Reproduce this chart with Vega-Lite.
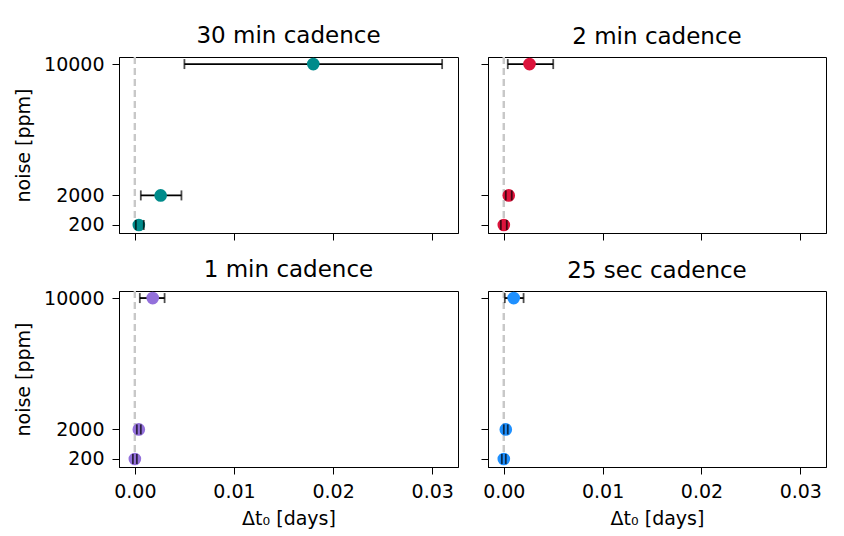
{
  "$schema": "https://vega.github.io/schema/vega-lite/v6.json",
  "background": "white",
  "padding": {"left": 14, "top": 24, "right": 5, "bottom": 5},
  "datasets": {
    "d": [
      {"panel": "30 min", "noise": 10000, "dt": 0.0180, "lo": 0.0050, "hi": 0.0310},
      {"panel": "30 min", "noise": 2000, "dt": 0.0026, "lo": 0.0006, "hi": 0.0047},
      {"panel": "30 min", "noise": 200, "dt": 0.0004, "lo": 0.0001, "hi": 0.0009},
      {"panel": "2 min", "noise": 10000, "dt": 0.0026, "lo": 0.0004, "hi": 0.0050},
      {"panel": "2 min", "noise": 2000, "dt": 0.0005, "lo": 0.0002, "hi": 0.0008},
      {"panel": "2 min", "noise": 200, "dt": 0.0000, "lo": -0.0003, "hi": 0.0003},
      {"panel": "1 min", "noise": 10000, "dt": 0.0018, "lo": 0.0005, "hi": 0.0030},
      {"panel": "1 min", "noise": 2000, "dt": 0.0004, "lo": 0.0002, "hi": 0.0006},
      {"panel": "1 min", "noise": 200, "dt": 0.0000, "lo": -0.0002, "hi": 0.0002},
      {"panel": "25 sec", "noise": 10000, "dt": 0.0010, "lo": 0.0001, "hi": 0.0020},
      {"panel": "25 sec", "noise": 2000, "dt": 0.0002, "lo": 0.0000, "hi": 0.0004},
      {"panel": "25 sec", "noise": 200, "dt": 0.0000, "lo": -0.0002, "hi": 0.0002}
    ]
  },
  "data": {"name": "d"},
  "vconcat": [
    {
      "spacing": 21,
      "hconcat": [
        {
          "width": 339, "height": 176,
          "title": "30 min cadence",
          "transform": [{"filter": "datum.panel == '30 min'"}],
          "layer": [
            {"mark": {"type": "rule", "color": "#c8c8c8", "strokeDash": [7, 4], "strokeWidth": 2}, "encoding": {"x": {"datum": 0, "type": "quantitative"}}},
            {"mark": {"type": "rule", "color": "black", "strokeWidth": 1.8},
             "encoding": {
               "x": {"field": "lo", "type": "quantitative", "scale": {"domain": [-0.0016, 0.0326], "nice": false, "zero": false}, "axis": {"values": [0, 0.01, 0.02, 0.03], "labels": false, "title": null}},
               "x2": {"field": "hi"},
               "y": {"field": "noise", "type": "quantitative", "scale": {"domain": [-290, 10430], "nice": false, "zero": false}, "axis": {"values": [200, 2000, 10000], "title": "noise [ppm]", "format": "d"}}}},
            {"mark": {"type": "point", "filled": true, "opacity": 1, "size": 160, "color": "#008b8b"},
             "encoding": {"x": {"field": "dt", "type": "quantitative"}, "y": {"field": "noise", "type": "quantitative"}}},
            {"mark": {"type": "tick", "orient": "vertical", "color": "black", "size": 10, "thickness": 1.8},
             "encoding": {"x": {"field": "lo", "type": "quantitative"}, "y": {"field": "noise", "type": "quantitative"}}},
            {"mark": {"type": "tick", "orient": "vertical", "color": "black", "size": 10, "thickness": 1.8},
             "encoding": {"x": {"field": "hi", "type": "quantitative"}, "y": {"field": "noise", "type": "quantitative"}}}
          ]
        },
        {
          "width": 338, "height": 176,
          "title": "2 min cadence",
          "transform": [{"filter": "datum.panel == '2 min'"}],
          "layer": [
            {"mark": {"type": "rule", "color": "#c8c8c8", "strokeDash": [7, 4], "strokeWidth": 2}, "encoding": {"x": {"datum": 0, "type": "quantitative"}}},
            {"mark": {"type": "rule", "color": "black", "strokeWidth": 1.8},
             "encoding": {
               "x": {"field": "lo", "type": "quantitative", "scale": {"domain": [-0.0016, 0.0326], "nice": false, "zero": false}, "axis": {"values": [0, 0.01, 0.02, 0.03], "labels": false, "title": null}},
               "x2": {"field": "hi"},
               "y": {"field": "noise", "type": "quantitative", "scale": {"domain": [-290, 10430], "nice": false, "zero": false}, "axis": {"values": [200, 2000, 10000], "labels": false, "title": null}}}},
            {"mark": {"type": "point", "filled": true, "opacity": 1, "size": 160, "color": "#dc143c"},
             "encoding": {"x": {"field": "dt", "type": "quantitative"}, "y": {"field": "noise", "type": "quantitative"}}},
            {"mark": {"type": "tick", "orient": "vertical", "color": "black", "size": 10, "thickness": 1.8},
             "encoding": {"x": {"field": "lo", "type": "quantitative"}, "y": {"field": "noise", "type": "quantitative"}}},
            {"mark": {"type": "tick", "orient": "vertical", "color": "black", "size": 10, "thickness": 1.8},
             "encoding": {"x": {"field": "hi", "type": "quantitative"}, "y": {"field": "noise", "type": "quantitative"}}}
          ]
        }
      ]
    },
    {
      "spacing": 21,
      "hconcat": [
        {
          "width": 339, "height": 176,
          "title": "1 min cadence",
          "transform": [{"filter": "datum.panel == '1 min'"}],
          "layer": [
            {"mark": {"type": "rule", "color": "#c8c8c8", "strokeDash": [7, 4], "strokeWidth": 2}, "encoding": {"x": {"datum": 0, "type": "quantitative"}}},
            {"mark": {"type": "rule", "color": "black", "strokeWidth": 1.8},
             "encoding": {
               "x": {"field": "lo", "type": "quantitative", "scale": {"domain": [-0.0016, 0.0326], "nice": false, "zero": false}, "axis": {"values": [0, 0.01, 0.02, 0.03], "format": ".2f", "title": "Δt₀ [days]"}},
               "x2": {"field": "hi"},
               "y": {"field": "noise", "type": "quantitative", "scale": {"domain": [-290, 10430], "nice": false, "zero": false}, "axis": {"values": [200, 2000, 10000], "title": "noise [ppm]", "format": "d"}}}},
            {"mark": {"type": "point", "filled": true, "opacity": 1, "size": 160, "color": "#9370db"},
             "encoding": {"x": {"field": "dt", "type": "quantitative"}, "y": {"field": "noise", "type": "quantitative"}}},
            {"mark": {"type": "tick", "orient": "vertical", "color": "black", "size": 10, "thickness": 1.8},
             "encoding": {"x": {"field": "lo", "type": "quantitative"}, "y": {"field": "noise", "type": "quantitative"}}},
            {"mark": {"type": "tick", "orient": "vertical", "color": "black", "size": 10, "thickness": 1.8},
             "encoding": {"x": {"field": "hi", "type": "quantitative"}, "y": {"field": "noise", "type": "quantitative"}}}
          ]
        },
        {
          "width": 338, "height": 176,
          "title": "25 sec cadence",
          "transform": [{"filter": "datum.panel == '25 sec'"}],
          "layer": [
            {"mark": {"type": "rule", "color": "#c8c8c8", "strokeDash": [7, 4], "strokeWidth": 2}, "encoding": {"x": {"datum": 0, "type": "quantitative"}}},
            {"mark": {"type": "rule", "color": "black", "strokeWidth": 1.8},
             "encoding": {
               "x": {"field": "lo", "type": "quantitative", "scale": {"domain": [-0.0016, 0.0326], "nice": false, "zero": false}, "axis": {"values": [0, 0.01, 0.02, 0.03], "format": ".2f", "title": "Δt₀ [days]"}},
               "x2": {"field": "hi"},
               "y": {"field": "noise", "type": "quantitative", "scale": {"domain": [-290, 10430], "nice": false, "zero": false}, "axis": {"values": [200, 2000, 10000], "labels": false, "title": null}}}},
            {"mark": {"type": "point", "filled": true, "opacity": 1, "size": 160, "color": "#1e90ff"},
             "encoding": {"x": {"field": "dt", "type": "quantitative"}, "y": {"field": "noise", "type": "quantitative"}}},
            {"mark": {"type": "tick", "orient": "vertical", "color": "black", "size": 10, "thickness": 1.8},
             "encoding": {"x": {"field": "lo", "type": "quantitative"}, "y": {"field": "noise", "type": "quantitative"}}},
            {"mark": {"type": "tick", "orient": "vertical", "color": "black", "size": 10, "thickness": 1.8},
             "encoding": {"x": {"field": "hi", "type": "quantitative"}, "y": {"field": "noise", "type": "quantitative"}}}
          ]
        }
      ]
    }
  ],
  "spacing": 17,
  "config": {
    "font": "DejaVu Sans",
    "view": {"stroke": "black", "strokeWidth": 1},
    "axis": {"grid": false, "domainColor": "black", "tickColor": "black", "labelColor": "black", "titleColor": "black", "labelFont": "DejaVu Sans", "titleFont": "DejaVu Sans", "labelFontSize": 19, "titleFontSize": 19, "titleFontWeight": "normal", "tickSize": 7, "labelPadding": 8, "domainWidth": 1, "tickWidth": 1},
    "axisX": {"labelFlush": false, "titlePadding": 8},
    "axisY": {"titlePadding": 10},
    "title": {"font": "DejaVu Sans", "fontSize": 23, "fontWeight": "normal", "color": "black", "anchor": "middle", "frame": "group", "offset": 7}
  }
}
